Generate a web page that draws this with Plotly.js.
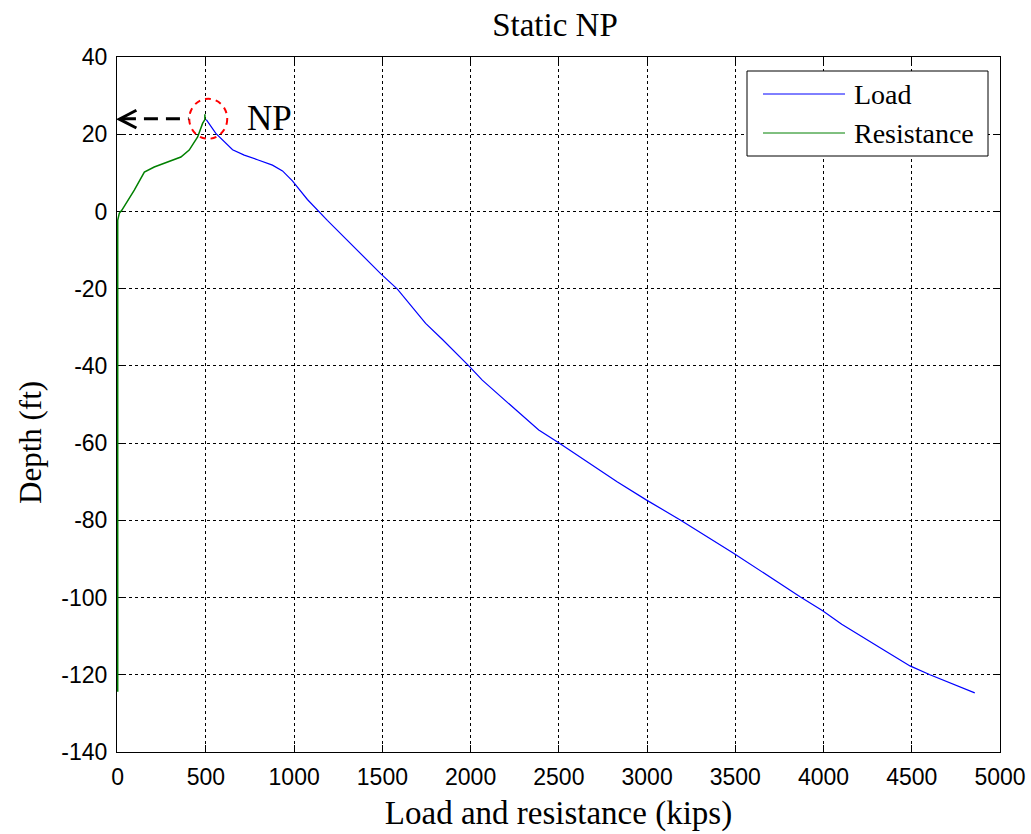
<!DOCTYPE html>
<html>
<head>
<meta charset="utf-8">
<script src="https://cdn.plot.ly/plotly-3.0.1.min.js"></script>
<style>
  html, body { margin: 0; padding: 0; background: #ffffff; }
  #chart { width: 1031px; height: 834px; }
</style>
</head>
<body>
<div id="chart"></div>
<script>
// Axial load and side resistance along the pile (kips vs. depth in ft)
const seriesNames = ['Load', 'Resistance'];
const seriesColors = ['#0000ff', '#008000'];

const loadKips = [502, 556, 651, 717, 792, 877, 934, 990, 1075, 1141, 1188, 1490, 1585, 1745, 1839,
                  1994, 2066, 2264, 2386, 2499, 2650, 2830, 2995, 3188, 3490, 3867, 3995, 4103,
                  4339, 4490, 4603, 4857];
const loadDepth = [23.8, 20.2, 16.0, 14.6, 13.4, 12.0, 10.5, 7.9, 3.1, -0.1, -2.3, -16.1, -20.1, -29.0, -33.1,
                   -40.2, -43.7, -51.7, -56.6, -59.9, -64.6, -70.0, -74.7, -79.9, -88.5, -99.8, -103.4, -106.9,
                   -113.5, -117.7, -120.0, -124.7];

const resistanceKips = [0, 0, 9, 23, 94, 132, 151, 207, 358, 405, 453, 481, 494, 494];
const resistanceDepth = [-124.4, -2.3, -0.5, 0.3, 5.5, 8.9, 10.2, 11.5, 14.1, 15.9, 19.3, 22.8, 23.8, 25.2];

const xTickVals = [0, 500, 1000, 1500, 2000, 2500, 3000, 3500, 4000, 4500, 5000];
const yTickVals = [40, 20, 0, -20, -40, -60, -80, -100, -120, -140];

// Neutral point where load and resistance meet
const npLabel = 'NP';
const npKips = 513;
const npDepth = 24.0;

const serif = 'Liberation Serif, Times New Roman, serif';
const sans = 'Liberation Sans, Arial, sans-serif';

// plot box in pixels
const W = 1031, H = 834;
const box = { left: 117, right: 1000, top: 57, bottom: 752 };
const px2paperX = p => (p - box.left) / (box.right - box.left);
const px2paperY = p => (box.bottom - p) / (box.bottom - box.top);

const traces = [
  { x: loadKips, y: loadDepth, name: seriesNames[0], type: 'scatter', mode: 'lines',
    line: { color: seriesColors[0], width: 1.2 }, hoverinfo: 'x+y' },
  { x: resistanceKips, y: resistanceDepth, name: seriesNames[1], type: 'scatter', mode: 'lines',
    line: { color: seriesColors[1], width: 1.5 }, hoverinfo: 'x+y' }
];

const axisCommon = {
  showline: true, linecolor: '#000', linewidth: 1, mirror: 'allticks',
  ticks: 'inside', ticklen: 7, tickwidth: 1, tickcolor: '#000',
  showgrid: true, gridcolor: '#000', gridwidth: 1, griddash: '3px,3px',
  zeroline: false, automargin: false, fixedrange: true,
  tickfont: { family: sans, size: 23, color: '#000' }
};

// hand-built legend box, lines and labels
const legendBox = { x0: 747, x1: 988, y0: 71, y1: 156 };
const legendRows = [94, 133];
const shapes = [
  { type: 'rect', xref: 'paper', yref: 'paper',
    x0: px2paperX(legendBox.x0), x1: px2paperX(legendBox.x1),
    y0: px2paperY(legendBox.y1), y1: px2paperY(legendBox.y0),
    fillcolor: '#ffffff', line: { color: '#000', width: 1 }, layer: 'above' }
];
const annotations = [];
seriesNames.forEach((name, i) => {
  shapes.push({ type: 'line', xref: 'paper', yref: 'paper',
    x0: px2paperX(763), x1: px2paperX(845),
    y0: px2paperY(legendRows[i]), y1: px2paperY(legendRows[i]),
    line: { color: seriesColors[i], width: 1 } });
  annotations.push({ xref: 'paper', yref: 'paper', x: px2paperX(852), y: px2paperY(legendRows[i]),
    xanchor: 'left', yanchor: 'middle', showarrow: false, text: name,
    font: { family: serif, size: 28, color: '#000' } });
});

// red dashed ring around the neutral point
shapes.push({ type: 'circle', xref: 'x', yref: 'y', xsizemode: 'pixel', ysizemode: 'pixel',
  xanchor: npKips, yanchor: npDepth, x0: -19, x1: 19, y0: -20, y1: 20,
  line: { color: '#ff0000', width: 2, dash: '6px,5px' } });
// dashed arrow pointing to the depth axis
shapes.push({ type: 'line', xref: 'x', yref: 'y', x0: 24, x1: 402, y0: npDepth, y1: npDepth,
  line: { color: '#000', width: 3, dash: '14px,8px' } });
shapes.push({ type: 'path', xref: 'x', yref: 'y', path: 'M 106,26.2 L 9,23.9 L 106,21.6',
  line: { color: '#000', width: 3 } });

annotations.push({ xref: 'x', yref: 'y', x: 862, y: npDepth, xanchor: 'center', yanchor: 'middle',
  showarrow: false, text: npLabel, font: { family: serif, size: 35, color: '#000' } });

// depth axis title
annotations.push({ xref: 'paper', yref: 'paper', x: px2paperX(30), y: px2paperY(443),
  xanchor: 'center', yanchor: 'middle', textangle: -90, showarrow: false, text: 'Depth (ft)',
  font: { family: serif, size: 31, color: '#000' } });

const layout = {
  width: W, height: H,
  margin: { l: box.left, r: W - box.right, t: box.top, b: H - box.bottom, pad: 0 },
  paper_bgcolor: '#ffffff', plot_bgcolor: '#ffffff',
  showlegend: false,
  title: { text: 'Static NP', font: { family: serif, size: 33, color: '#000' },
    x: 0.496, xref: 'paper', y: 1 - 24 / H, yref: 'container', yanchor: 'middle' },
  xaxis: Object.assign({}, axisCommon, {
    // a hair below zero so the resistance trace along x = 0 stays inside the plot clip
    range: [-4, 5000], tickvals: xTickVals, ticktext: xTickVals.map(String), ticklabelstandoff: 4,
    title: { text: 'Load and resistance (kips)', font: { family: serif, size: 33, color: '#000' }, standoff: 12 }
  }),
  yaxis: Object.assign({}, axisCommon, {
    range: [-140, 40], tickvals: yTickVals, ticktext: yTickVals.map(String), ticklabelstandoff: 4,
    layer: 'below traces'
  }),
  shapes: shapes,
  annotations: annotations
};

Plotly.newPlot('chart', traces, layout, { displayModeBar: false, staticPlot: true });
</script>
</body>
</html>
